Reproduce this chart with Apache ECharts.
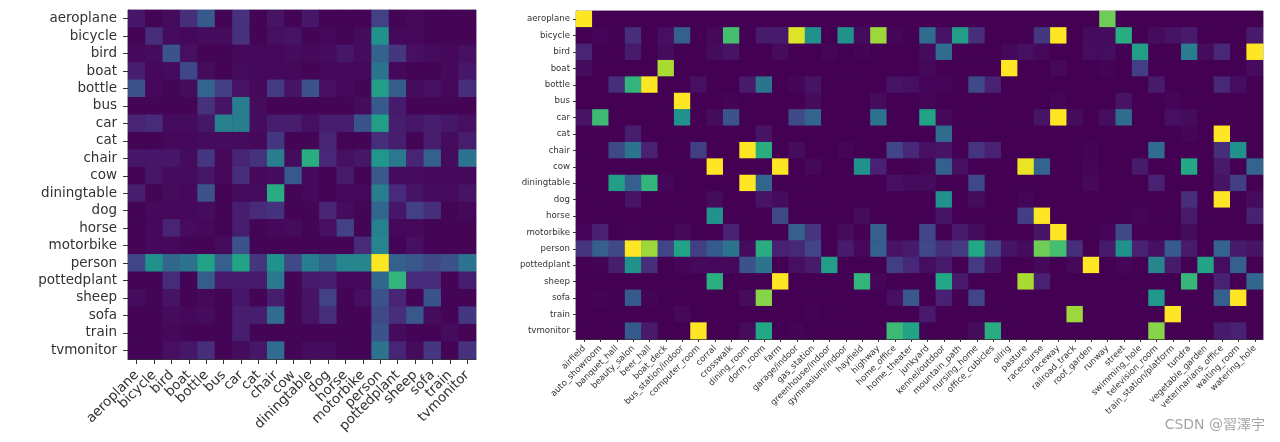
<!DOCTYPE html>
<html>
<head>
<meta charset="utf-8">
<style>html,body{margin:0;padding:0;background:#fff}#c{width:1280px;height:442px;filter:blur(0.45px)}</style>
<script src="https://cdn.jsdelivr.net/npm/echarts@6/dist/echarts.min.js"></script>
</head>
<body>
<div id="c"></div>
<script>
const vocLabels = ['aeroplane','bicycle','bird','boat','bottle','bus','car','cat','chair','cow','diningtable','dog','horse','motorbike','person','pottedplant','sheep','sofa','train','tvmonitor'];
const placeLabels = ['airfield','auto_showroom','banquet_hall','beauty_salon','beer_hall','boat_deck','bus_station/indoor','computer_room','corral','crosswalk','dining_room','dorm_room','farm','garage/indoor','gas_station','greenhouse/indoor','gymnasium/indoor','hayfield','highway','home_office','home_theater','junkyard','kennel/outdoor','mountain_path','nursing_home','office_cubicles','oilrig','pasture','racecourse','raceway','railroad_track','roof_garden','runway','street','swimming_hole','television_room','train_station/platform','tundra','vegetable_garden','veterinarians_office','waiting_room','watering_hole'];
const vocValues = [
[.06,.01,.03,.13,.28,.01,.14,.01,.05,.01,.06,.01,.01,.01,.19,.01,.02,.01,.01,.01],
[.01,.13,.03,.02,.03,.03,.14,.01,.04,.05,.01,.02,.01,.03,.5,.02,.02,.01,.01,.01],
[.02,.03,.26,.04,.01,.01,.02,.02,.02,.03,.02,.03,.06,.03,.31,.16,.04,.03,.02,.04],
[.08,.02,.03,.21,.03,.01,.03,.02,.02,.02,.01,.02,.02,.02,.38,.02,.01,.01,.02,.06],
[.25,.02,.01,.03,.32,.18,.05,.02,.17,.05,.26,.04,.02,.01,.55,.29,.03,.04,.02,.13],
[.01,.01,.01,.01,.14,.05,.42,.03,.01,.01,.01,.01,.01,.03,.28,.07,.01,.01,.01,.01],
[.1,.12,.03,.03,.06,.43,.42,.03,.08,.08,.04,.08,.08,.26,.55,.08,.06,.08,.06,.04],
[.01,.01,.02,.02,.03,.03,.03,.02,.16,.01,.01,.1,.01,.01,.13,.08,.01,.08,.03,.08],
[.06,.06,.06,.03,.16,.02,.1,.14,.42,.03,.62,.11,.04,.06,.52,.4,.1,.3,.03,.38],
[.01,.06,.03,.03,.06,.02,.13,.02,.03,.27,.02,.01,.07,.01,.27,.03,.03,.02,.02,.02],
[.08,.01,.03,.02,.25,.01,.03,.03,.62,.01,.02,.01,.02,.02,.42,.12,.05,.03,.03,.05],
[.01,.02,.02,.02,.03,.01,.08,.12,.14,.01,.01,.1,.03,.01,.33,.06,.19,.13,.01,.02],
[.01,.02,.1,.03,.02,.01,.08,.01,.02,.03,.01,.04,.19,.01,.43,.02,.02,.01,.01,.01],
[.01,.02,.02,.01,.01,.03,.25,.01,.01,.01,.01,.01,.01,.12,.45,.01,.04,.01,.01,.01],
[.2,.5,.33,.38,.58,.3,.58,.15,.5,.22,.42,.33,.45,.45,1,.3,.27,.22,.25,.38],
[.01,.01,.12,.01,.29,.07,.07,.07,.4,.01,.07,.08,.02,.02,.33,.65,.12,.12,.01,.08],
[.03,.01,.05,.01,.02,.01,.06,.01,.08,.01,.05,.19,.01,.04,.25,.1,.01,.26,.01,.01],
[.01,.01,.03,.02,.03,.01,.08,.08,.35,.01,.05,.13,.01,.01,.22,.13,.27,.03,.01,.16],
[.01,.01,.02,.01,.01,.01,.08,.01,.01,.01,.01,.01,.01,.01,.26,.03,.01,.01,.03,.01],
[.01,.01,.04,.06,.13,.01,.03,.06,.35,.01,.03,.03,.01,.01,.38,.1,.03,.16,.01,.14]
];
// Non-zero cells only, keyed by scene column; anything else reads as 0.
const placeValues = [
{0:1,32:.78},
{1:.015,3:.13,5:.04,6:.3,8:.02,9:.7,11:.07,12:.07,13:.95,14:.5,16:.5,17:.03,18:.85,19:.015,21:.35,22:.05,23:.55,24:.13,28:.16,29:1,31:.03,32:.03,33:.62,35:.03,36:.05,37:.07,41:.07},
{0:.1,3:.07,5:.03,8:.03,9:.05,12:.03,15:.015,17:.01,21:.03,22:.35,26:.02,27:.04,28:.02,31:.035,32:.035,34:.55,37:.42,38:.03,39:.11,41:1},
{0:.03,5:.87,21:.02,26:1,29:.02,32:.01,34:.18,41:.03},
{2:.13,3:.65,4:1,7:.04,10:.07,11:.38,13:.015,14:.05,19:.05,20:.04,21:.015,22:.015,24:.22,25:.09,35:.07,39:.11,40:.035},
{6:1,9:.01,14:.03,18:.03,21:.015,29:.015,33:.05,36:.015},
{0:.05,1:.68,6:.5,8:.03,9:.25,13:.22,14:.32,18:.38,21:.58,22:.02,28:.05,29:1,30:.03,32:.035,33:.35,36:.04,37:.03},
{3:.08,11:.05,22:.35,37:.015,39:1},
{2:.22,3:.38,4:.09,7:.18,10:1,11:.62,13:.03,16:.015,19:.2,20:.11,21:.04,22:.05,24:.15,25:.09,31:.01,35:.35,39:.13,40:.5},
{8:1,12:1,14:.02,17:.5,18:.09,21:.015,22:.3,23:.04,27:.97,28:.32,31:.015,34:.07,37:.6,39:.07,41:.32},
{2:.55,3:.3,4:.65,5:.015,10:1,11:.32,19:.04,20:.03,21:.03,24:.22,31:.02,35:.09,39:.05,40:.18},
{3:.05,8:.03,11:.05,12:.03,22:.5,24:.03,27:.015,37:.13,39:1,41:.03},
{8:.5,12:.22,17:.03,22:.05,27:.18,28:1,34:.015,37:.07,41:.09},
{0:.015,1:.09,3:.01,6:.02,9:.09,13:.3,14:.15,16:.03,18:.3,21:.2,23:.07,24:.03,28:.05,29:1,32:.015,33:.22,37:.03},
{0:.15,1:.3,2:.22,3:1,4:.85,5:.2,6:.58,7:.18,8:.28,9:.38,10:.03,11:.62,12:.09,13:.11,14:.2,16:.07,17:.02,18:.3,19:.05,20:.07,21:.22,22:.13,23:.17,24:.6,25:.2,26:.05,27:.03,28:.78,29:.7,30:.13,32:.07,33:.5,34:.09,35:.04,36:.28,37:.07,39:.32,40:.07,41:.05},
{1:.01,2:.08,3:.5,4:.13,6:.015,7:.02,8:.02,9:.02,10:.25,11:.38,13:.04,14:.07,15:.55,19:.18,20:.11,21:.035,22:.07,24:.17,25:.05,28:.02,30:.02,31:1,33:.015,35:.45,36:.07,38:.58,39:.035,40:.3},
{8:.63,12:1,17:.65,18:.015,22:.6,23:.07,27:.87,28:.09,37:.66,39:.09,41:.33},
{1:.01,3:.28,4:.01,10:.03,11:.82,19:.04,20:.27,22:.09,24:.2,35:.52,39:.3,40:1},
{6:.02,14:.005,21:.07,30:.85,36:1},
{3:.28,4:.07,7:1,10:.03,11:.6,13:.01,19:.68,20:.58,24:.03,25:.62,35:.82,39:.07,40:.09}
];
const viridis = ['#440154','#482475','#414487','#355f8d','#2a788e','#21918c','#22a884','#44bf70','#7ad151','#bddf26','#fde725'];
const textColor = '#333333';
const fontFamily = '"DejaVu Sans", sans-serif';

const vocCells = [];
vocValues.forEach((row, r) => row.forEach((v, c) => vocCells.push([c, r, v])));
const placeCells = [];
placeValues.forEach((row, r) => placeLabels.forEach((_, c) => placeCells.push([c, r, row[c] || 0])));

function xAxis(idx, labels, size, len, margin) {
  return {type:'category', gridIndex:idx, data:labels, position:'bottom',
    axisTick:{show:true, alignWithLabel:true, length:len, lineStyle:{color:'#333'}},
    axisLine:{show:true, lineStyle:{color:'#333', width:1}},
    axisLabel:{interval:0, rotate:45, fontSize:size, color:textColor, fontFamily, margin},
    splitLine:{show:false}};
}
function yAxis(idx, labels, size, len, margin) {
  return {type:'category', gridIndex:idx, data:labels, inverse:true,
    axisTick:{show:true, alignWithLabel:true, length:len, lineStyle:{color:'#333'}},
    axisLine:{show:true, lineStyle:{color:'#333', width:1}},
    axisLabel:{interval:0, fontSize:size, color:textColor, fontFamily, margin},
    splitLine:{show:false}};
}
const chart = echarts.init(document.getElementById('c'), null, {renderer:'canvas'});
chart.setOption({
  animation:false,
  backgroundColor:'#fff',
  grid:[
    {left:128, top:10, width:348, height:349, show:true, borderColor:'#999', borderWidth:1, backgroundColor:'#440154'},
    {left:576, top:11, width:687, height:328, show:true, borderColor:'#999', borderWidth:1, backgroundColor:'#440154'}
  ],
  xAxis:[xAxis(0, vocLabels, 13.5, 5, 14), xAxis(1, placeLabels, 8.6, 3, 8)],
  yAxis:[yAxis(0, vocLabels, 13.5, 5, 11), yAxis(1, vocLabels, 8.6, 3, 6)],
  visualMap:[
    {show:false, min:0, max:1, seriesIndex:0, dimension:2, inRange:{color:viridis}},
    {show:false, min:0, max:1, seriesIndex:1, dimension:2, inRange:{color:viridis}}
  ],
  series:[
    {type:'heatmap', xAxisIndex:0, yAxisIndex:0, data:vocCells, progressive:0, emphasis:{disabled:true}},
    {type:'heatmap', xAxisIndex:1, yAxisIndex:1, data:placeCells, progressive:0, emphasis:{disabled:true}}
  ],
  graphic:[{type:'text', right:15, top:418, style:{text:'CSDN @習澤宇', fontSize:14, fill:'#a5a5a5', fontFamily:'"DejaVu Sans","Noto Sans CJK TC",sans-serif'}}]
});
</script>
</body>
</html>
